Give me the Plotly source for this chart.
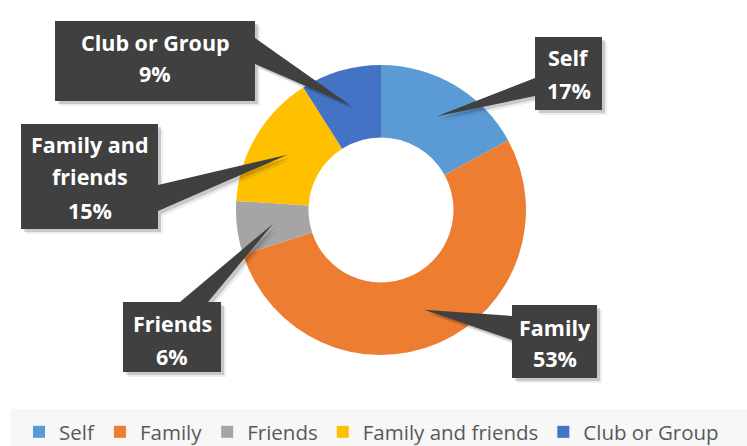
import math
import plotly.graph_objects as go

# ---------------- data ----------------
labels = ["Self", "Family", "Friends", "Family and friends", "Club or Group"]
values = [17, 53, 6, 15, 9]
colors = ["#5B9BD5", "#ED7D31", "#A5A5A5", "#FFC000", "#4472C4"]

# ---------------- layout constants (pixels) ----------------
W, H = 747, 446
CX, CY, R = 381, 210, 145
HOLE = 0.5

def px(x):
    return x / W

def py(y):
    return 1 - y / H

# callout boxes: label index, box (x0, y0, x1, y1), wedge base points, line y positions, wrap
callouts = [
    dict(i=0, box=(535, 37, 602, 110), base=((535, 78), (535, 96)), lines_y=[58, 90], wrap=None),
    dict(i=1, box=(512, 305, 597, 378), base=((512, 316), (512, 340)), lines_y=[327, 358], wrap=None),
    dict(i=2, box=(123, 302, 221, 372), base=((180, 302), (208, 302)), lines_y=[323, 356], wrap=None),
    dict(i=3, box=(21, 124, 158, 229), base=((158, 185), (158, 211)), lines_y=[145, 177, 210], wrap=["Family and", "friends"]),
    dict(i=4, box=(55, 21, 255, 101), base=((255, 38), (255, 64)), lines_y=[42, 73], wrap=None),
]

total = sum(values)
fig = go.Figure()
fig.add_trace(go.Pie(
    labels=labels,
    values=values,
    hole=HOLE,
    sort=False,
    direction="clockwise",
    rotation=0,
    marker=dict(colors=colors, line=dict(width=0)),
    textinfo="none",
    hoverinfo="label+percent",
    domain=dict(x=[px(CX - R), px(CX + R)], y=[py(CY + R), py(CY - R)]),
))

shapes = []
annotations = []

# legend background band
shapes.append(dict(type="rect", xref="paper", yref="paper",
                   x0=px(10), x1=1.0, y0=0, y1=py(409),
                   fillcolor="#F7F7F7", line=dict(width=0), layer="below"))

BOX = "#404040"
r_mid = (HOLE * R + R) / 2
cum = 0
mids = []
for v in values:
    mids.append((cum + v / 2) / total * 2 * math.pi)
    cum += v

FONT_B = "Open Sans"
for c in callouts:
    i = c["i"]
    th = mids[i]
    tx = CX + r_mid * math.sin(th)
    ty = CY - r_mid * math.cos(th)
    x0, y0, x1, y1 = c["box"]
    (bx1, by1), (bx2, by2) = c["base"]
    # shadows
    for off, alpha in ((5, 0.07), (3, 0.15)):
        shapes.append(dict(type="rect", xref="paper", yref="paper",
                           x0=px(x0 + off), x1=px(x1 + off), y0=py(y1 + off), y1=py(y0 + off),
                           fillcolor=f"rgba(0,0,0,{alpha})", line=dict(width=0), layer="above"))
        shapes.append(dict(type="path", xref="paper", yref="paper",
                           path=f"M{px(bx1+off)},{py(by1+off)} L{px(tx+off)},{py(ty+off)} L{px(bx2+off)},{py(by2+off)} Z",
                           fillcolor=f"rgba(0,0,0,{alpha})", line=dict(width=0), layer="above"))
    shapes.append(dict(type="rect", xref="paper", yref="paper",
                       x0=px(x0), x1=px(x1), y0=py(y1), y1=py(y0),
                       fillcolor=BOX, line=dict(width=0), layer="above"))
    shapes.append(dict(type="path", xref="paper", yref="paper",
                       path=f"M{px(bx1)},{py(by1)} L{px(tx)},{py(ty)} L{px(bx2)},{py(by2)} Z",
                       fillcolor=BOX, line=dict(width=0), layer="above"))
    pct = f"{round(values[i] / total * 100)}%"
    lines = (c["wrap"] if c["wrap"] else [labels[i]]) + [pct]
    for ln, ly in zip(lines, c["lines_y"]):
        annotations.append(dict(xref="paper", yref="paper", x=px((x0 + x1) / 2), y=py(ly),
                                text=f"<b>{ln}</b>", showarrow=False, xanchor="center", yanchor="middle",
                                font=dict(family=FONT_B, size=21.5, color="white")))

fig.update_layout(
    width=W, height=H,
    margin=dict(l=0, r=0, t=0, b=0, autoexpand=False),
    paper_bgcolor="white",
    plot_bgcolor="white",
    shapes=shapes,
    annotations=annotations,
    showlegend=True,
    legend=dict(orientation="h", x=px(19), xanchor="left", y=py(432), yanchor="middle",
                font=dict(family="Open Sans", size=20.5, color="#595959"),
                bgcolor="rgba(0,0,0,0)", itemclick=False),
)

fig.write_html("out.html", config={"displayModeBar": False},
               post_script="document.body.style.margin='0';document.body.style.overflow='hidden';")
